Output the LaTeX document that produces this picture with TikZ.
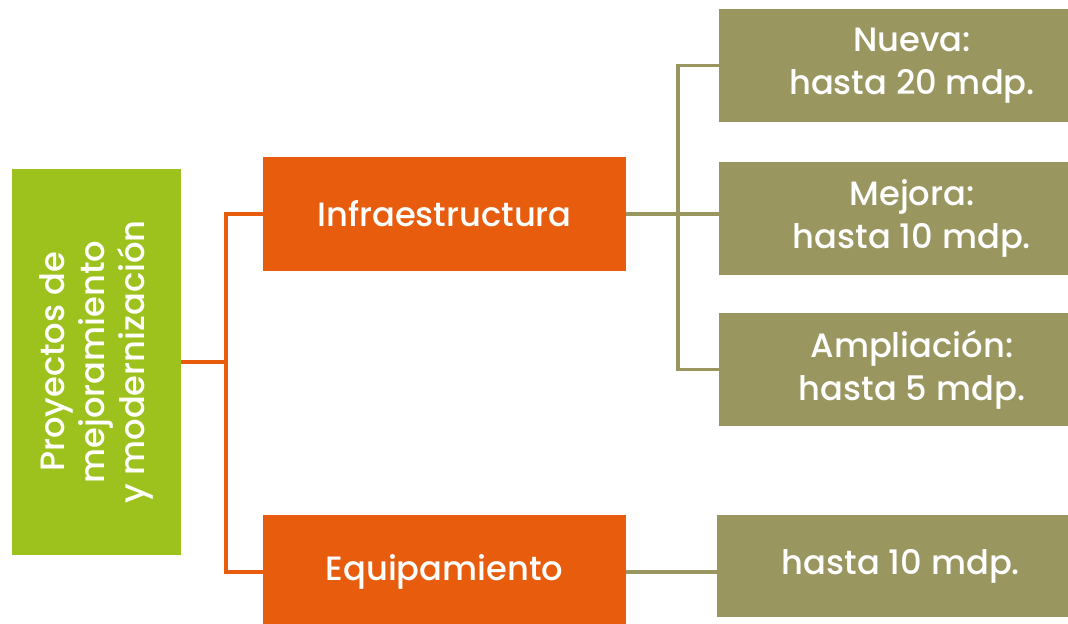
\documentclass[tikz,border=0pt]{standalone}
\usepackage{fontspec}
\setmainfont{Poppins}[UprightFont={* Medium}]
\usetikzlibrary{positioning}

\definecolor{leafgreen}{HTML}{9DC21E}
\definecolor{brickorange}{HTML}{E85C0D}
\definecolor{khaki}{HTML}{9A9660}

\tikzset{
  box/.style={rectangle,inner sep=0pt,text=white,align=center,font=\fontsize{24}{30.5}\selectfont},
  greenbox/.style={box,fill=leafgreen,font=\fontsize{24}{28.5}\selectfont},
  orangebox/.style={box,fill=brickorange,minimum width=9.075cm,minimum height=2.85cm},
  olivebox/.style={box,fill=khaki,minimum height=2.825cm},
  orangeline/.style={draw=brickorange,line width=2.4pt},
  oliveline/.style={draw=khaki,line width=2.4pt}
}

\begin{document}
\begin{tikzpicture}

  \useasboundingbox (0,0) rectangle (26.7,15.575);

  \node [greenbox,rotate=90,minimum width=9.65cm,minimum height=4.225cm] (proyectos) at (2.4125,6.525)
    {Proyectos de\\mejoramiento\\y modernización};

  \node [orangebox] (infra) at (11.1125,10.225) {Infraestructura};
  \node [orangebox] (equipo) at (11.1125,1.275) {Equipamiento};

  \node [olivebox,minimum width=9.65cm] (nueva) at (22.8,13.9375) {Nueva:\\hasta 20 mdp.};
  \node [olivebox,minimum width=9.65cm] (mejora) at (22.8,10.1125) {Mejora:\\hasta 10 mdp.};
  \node [olivebox,minimum width=9.65cm] (ampliacion) at (22.8,6.3375) {Ampliación:\\hasta 5 mdp.};
  \node [olivebox,minimum width=9.2cm,minimum height=2.55cm] (monto) at (22.525,1.425) {hasta 10 mdp.};

  \coordinate (ojoin) at (5.65,0);
  \coordinate (kjoin) at (16.95,0);

  \path [orangeline]
    (proyectos.south) -- (proyectos.south -| ojoin)
    (infra.west) -- (infra.west -| ojoin) -- (equipo.west -| ojoin) -- (equipo.west);

  \path [oliveline]
    (infra.east) -- (infra.east -| mejora.west)
    (nueva.west) -- (nueva.west -| kjoin) -- (ampliacion.west -| kjoin) -- (ampliacion.west)
    (equipo.east) -- (equipo.east -| monto.west);

\end{tikzpicture}
\end{document}
